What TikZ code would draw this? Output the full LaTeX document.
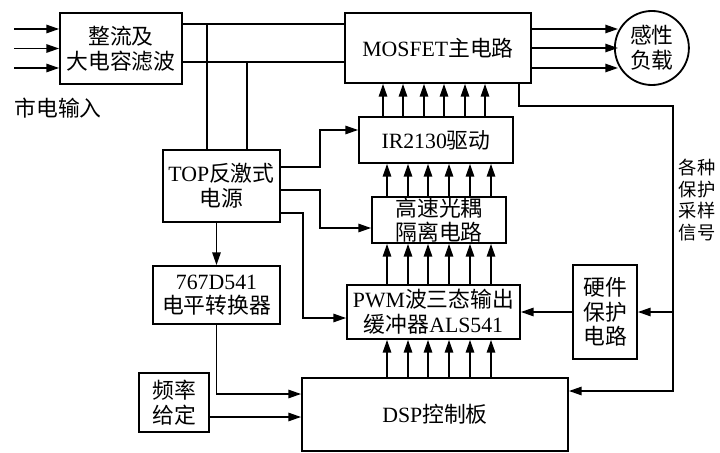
\documentclass[tikz,border=0pt]{standalone}
\usepackage{fontspec}
\setmainfont{Liberation Serif}
\newfontfamily\cjk{Noto Sans CJK SC}
\newcommand{\zh}[1]{{\cjk #1}}
\usetikzlibrary{arrows.meta, positioning, calc}

\begin{document}
\begin{tikzpicture}[
    x=0.025cm, y=-0.025cm,
    font=\fontsize{15.5pt}{17.5pt}\selectfont,
    >={Triangle[length=9pt, width=6pt]},
    block/.style={rectangle, draw, line width=1.3pt, align=center, inner sep=0pt},
    wire/.style={line width=1pt},
    feed/.style={wire, ->}
]
\useasboundingbox (0,0) rectangle (720,452);

    % Power stage
    \node[block, minimum width=3.05cm, minimum height=1.775cm] (rect) at (121,48.5) {\zh{整流及}\\\zh{大电容滤波}};
    \node[block, minimum width=4.65cm, minimum height=1.75cm] (mosfet) at (438,48) {MOSFET\zh{主电路}};
    \node[circle, draw, line width=1.3pt, minimum size=1.85cm, inner sep=0pt, align=center, right=2.05cm of mosfet] (load) {\zh{感性}\\\zh{负载}};
    \node (mains) at (58,108) {\zh{市电输入}};

    % Control side
    \node[block, minimum width=2.925cm, minimum height=1.8cm] (top) at (221.5,186) {TOP\zh{反激式}\\\zh{电源}};
    \node[block, minimum width=3.85cm, minimum height=1.15cm] (ir) at (436,140) {IR2130\zh{驱动}};
    \node[block, minimum width=3.35cm, minimum height=1.15cm] (opto) at (439,220) {\zh{高速光耦}\\\zh{隔离电路}};
    \node[block, minimum width=4.325cm, minimum height=1.35cm] (pwm) at (433.5,312) {PWM\zh{波三态输出}\\\zh{缓冲器}ALS541};
    \node[block, minimum width=3.175cm, minimum height=1.45cm] (lvl) at (216.5,295) {767D541\\\zh{电平转换器}};
    \node[block, minimum width=1.6cm, minimum height=2.35cm] (hw) at (605,312) {\zh{硬件}\\\zh{保护}\\\zh{电路}};
    \node[block, minimum width=1.75cm, minimum height=1.475cm] (freq) at (174,402.5) {\zh{频率}\\\zh{给定}};
    \node[block, minimum width=6.65cm, minimum height=1.825cm] (dsp) at (435,414.5) {DSP\zh{控制板}};
    \node[font=\fontsize{13pt}{15.5pt}\selectfont, align=center] (sig) at (697,200) {\zh{各种}\\\zh{保护}\\\zh{采样}\\\zh{信号}};

    % Mains in, load out
    \foreach \dy in {-19.5,0,19.5}
        \draw[feed] ($(rect.west)+(-45,\dy)$) -- ($(rect.west)+(0,\dy)$);
    \foreach \dy in {-19,0,20}
        \draw[feed] ($(mosfet.east)+(0,\dy)$) -- ($(load.west)+(4,\dy)$);

    % DC bus
    \coordinate (busA) at (0,24);
    \coordinate (busB) at (0,62);
    \coordinate (tapA) at (207,24);
    \coordinate (tapB) at (247,62);
    \draw[wire] (rect.east |- busA) -- (mosfet.west |- busA);
    \draw[wire] (rect.east |- busB) -- (mosfet.west |- busB);
    \draw[wire] (tapA) -- (tapA |- top.north);
    \draw[wire] (tapB) -- (tapB |- top.north);

    % Auxiliary supply outputs
    \coordinate (jIR) at (320,130);
    \coordinate (jOpto) at (320,228);
    \coordinate (jPwm) at (303,318);
    \draw[feed] ($(top.east)+(0,-19)$) -| (jIR) -- (ir.west |- jIR);
    \draw[feed] ($(top.east)+(0,4)$) -| (jOpto) -- (opto.west |- jOpto);
    \draw[feed] ($(top.east)+(0,27)$) -| (jPwm) -- (pwm.west |- jPwm);
    \draw[feed] (lvl.north |- top.south) -- (lvl.north);

    % Into the DSP board
    \coordinate (jLvl) at (0,394);
    \coordinate (jFreq) at (0,417);
    \coordinate (jDsp) at (0,391);
    \draw[feed] (lvl.south) |- (dsp.west |- jLvl);
    \draw[feed] (freq.east |- jFreq) -- (dsp.west |- jFreq);

    % Protection feedback
    \coordinate (sense) at (673,106);
    \draw[feed] ($(mosfet.south east)+(-13,0)$) |- (sense) |- (dsp.east |- jDsp);
    \draw[feed] (hw.east -| sense) -- (hw.east);
    \draw[feed] (hw.west) -- (pwm.east);

    % Gate signal buses
    \foreach \x in {383,403,424,444,465,485}
        \draw[feed] (ir.north -| \x,0) -- (mosfet.south -| \x,0);
    \foreach \x in {387,408,428,449,470,491} {
        \draw[feed] (opto.north -| \x,0) -- (ir.south -| \x,0);
        \draw[feed] (pwm.north -| \x,0) -- (opto.south -| \x,0);
        \draw[feed] (dsp.north -| \x,0) -- (pwm.south -| \x,0);
    }

\end{tikzpicture}
\end{document}
